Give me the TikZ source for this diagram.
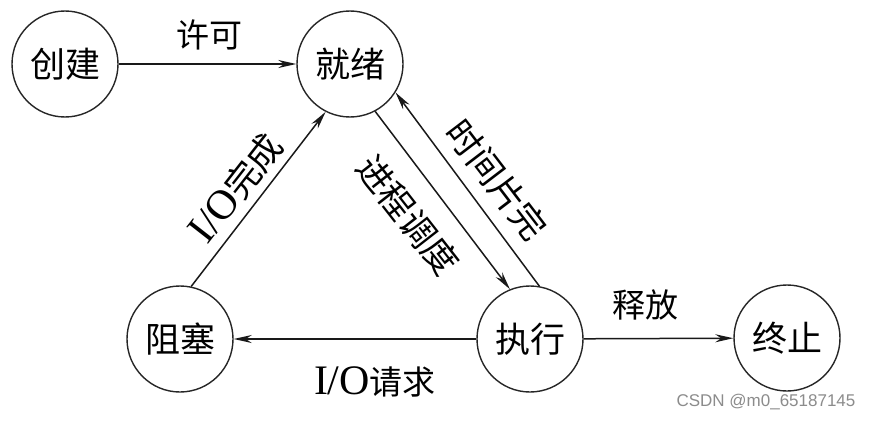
\documentclass[tikz,border=0pt]{standalone}
\usepackage{fontspec}
\setmainfont{Liberation Serif}
\newfontfamily\cjk{Noto Sans CJK SC}
\newfontfamily\wmfont{Liberation Sans}
\newcommand\myio{\rmfamily\fontsize{42}{44}\selectfont}
\usetikzlibrary{arrows.meta}
\begin{document}
\begin{tikzpicture}[x=1pt,y=-1pt,
  state/.style={circle,draw=black!85,line width=1.4pt,minimum size=106pt,inner sep=0pt,
    font=\cjk\fontsize{35}{38}\selectfont},
  trans/.style={draw=black!90,line width=1.5pt,-{Stealth[length=18pt,width=8pt]}},
  lbl/.style={font=\cjk\fontsize{33}{36}\selectfont,inner sep=0pt},
  dlbl/.style={font=\cjk\fontsize{35}{38}\selectfont,inner sep=0pt}]
\useasboundingbox[fill=white] (0,0) rectangle (869,420);
\node[state] (cj) at (65,64) {创建};
\node[state] (jx) at (350,64) {就绪};
\node[state] (zs) at (180,339) {阻塞};
\node[state] (zx) at (530,339) {执行};
\node[state] (zz) at (787,338) {终止};
\draw[trans] (cj) -- (jx);
\draw[trans] (jx.-62) -- (zx.112);
\draw[trans] (zx.80) -- (jx.-32);
\draw[trans] (zs.78) -- (jx.-117);
\draw[trans] (zx) -- (zs);
\draw[trans] (zx) -- (zz);
\node[lbl] (l1) at (209,35) {许可};
\node[dlbl,rotate=-52] (l2) at (408,215) {进程调度};
\node[dlbl,rotate=-52.6] (l3) at (497,180) {时间片完};
\node[dlbl,rotate=52] (l4) at (236,188) {{\myio I/O}完成};
\node[lbl] (l5) at (375,382) {{\myio I/O}请求};
\node[lbl] (l6) at (645,305) {释放};
\node[font=\wmfont\fontsize{17}{18}\selectfont,text=black!45,inner sep=0pt] (wm) at (766,402) {CSDN @m0\_65187145};
\end{tikzpicture}
\end{document}
